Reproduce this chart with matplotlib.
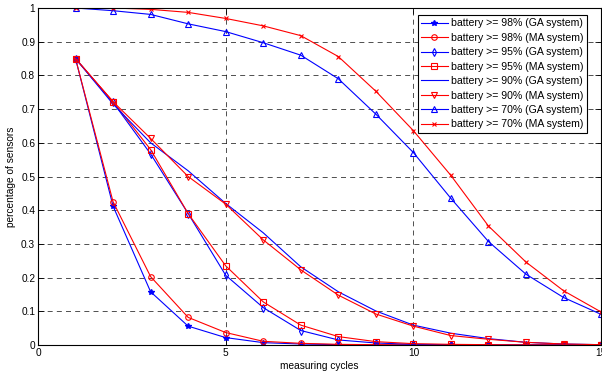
import matplotlib
matplotlib.use("Agg")
import matplotlib.pyplot as plt

plt.rcParams['font.family'] = ['Liberation Sans', 'DejaVu Sans']

cycles = list(range(1, 16))
ga98 = [0.85, 0.412, 0.158, 0.056, 0.022, 0.007, 0.003, 0.001, 0.0005, 0, 0, 0, 0, 0, 0]
ma98 = [0.85, 0.425, 0.203, 0.082, 0.037, 0.011, 0.005, 0.002, 0.001, 0.0005, 0, 0, 0, 0, 0]
ga95 = [0.85, 0.72, 0.567, 0.39, 0.207, 0.111, 0.043, 0.015, 0.006, 0.002, 0.001, 0, 0, 0, 0]
ma95 = [0.85, 0.722, 0.58, 0.39, 0.235, 0.128, 0.059, 0.025, 0.010, 0.004, 0.002, 0.001, 0, 0, 0]
ga90 = [0.85, 0.715, 0.60, 0.517, 0.42, 0.333, 0.232, 0.158, 0.101, 0.059, 0.035, 0.019, 0.008, 0.003, 0.001]
ma90 = [0.85, 0.722, 0.613, 0.50, 0.418, 0.312, 0.223, 0.148, 0.092, 0.056, 0.028, 0.017, 0.008, 0.003, 0.001]
ga70 = [1.0, 0.992, 0.981, 0.953, 0.93, 0.897, 0.86, 0.79, 0.685, 0.571, 0.435, 0.307, 0.21, 0.141, 0.091]
ma70 = [1.0, 1.0, 0.996, 0.987, 0.969, 0.947, 0.918, 0.856, 0.753, 0.636, 0.503, 0.353, 0.246, 0.161, 0.098]

labels = ["battery >= 98% (GA system)", "battery >= 98% (MA system)",
          "battery >= 95% (GA system)", "battery >= 95% (MA system)",
          "battery >= 90% (GA system)", "battery >= 90% (MA system)",
          "battery >= 70% (GA system)", "battery >= 70% (MA system)"]

fig = plt.figure(figsize=(6.02, 3.74), dpi=100)
ax = fig.add_axes([0.0631, 0.0775, 0.9354, 0.9011])

B = (0, 0, 1)
R = (1, 0, 0)
lw = 0.8
ax.plot(cycles, ga98, color=B, lw=lw, marker='*', ms=4, mfc=B, label=labels[0])
ax.plot(cycles, ma98, color=R, lw=lw, marker='o', ms=4, mfc='none', mew=0.8, label=labels[1])
ax.plot(cycles, ga95, color=B, lw=lw, marker='d', ms=4, mfc='none', mew=0.8, label=labels[2])
ax.plot(cycles, ma95, color=R, lw=lw, marker='s', ms=4, mfc='none', mew=0.8, label=labels[3])
ax.plot(cycles, ga90, color=B, lw=lw, label=labels[4])
ax.plot(cycles, ma90, color=R, lw=lw, marker='v', ms=4, mfc='none', mew=0.8, label=labels[5])
ax.plot(cycles, ga70, color=B, lw=lw, marker='^', ms=4.5, mfc='none', mew=0.8, label=labels[6])
ax.plot(cycles, ma70, color=R, lw=lw, marker='x', ms=2.5, mew=0.8, label=labels[7])

ax.set_xlim(0, 15)
ax.set_ylim(0, 1)
ax.set_xticks([0, 5, 10, 15])
ax.set_yticks([i / 10 for i in range(11)])
ax.set_yticklabels(['0', '0.1', '0.2', '0.3', '0.4', '0.5', '0.6', '0.7', '0.8', '0.9', '1'])
ax.tick_params(direction='in', top=True, right=True, labelsize=7.3, length=4, width=0.6, pad=2)
ax.grid(True, color='black', linestyle=(0, (6, 5)), linewidth=0.6, alpha=0.8)
for s in ax.spines.values():
    s.set_linewidth(0.8)
ax.set_axisbelow(True)

ax.set_xlabel("measuring cycles", fontsize=7.3, labelpad=2)
ax.set_ylabel("percentage of sensors", fontsize=7.3, labelpad=4)

leg = ax.legend(loc='upper right', bbox_to_anchor=(0.975, 0.98), fontsize=7.6, frameon=True,
                fancybox=False, edgecolor='black', framealpha=1, borderpad=0.35,
                labelspacing=0.42, handlelength=2.5, handletextpad=0.3, borderaxespad=0)
leg.get_frame().set_linewidth(0.8)

fig.savefig("out.png", dpi=100)
